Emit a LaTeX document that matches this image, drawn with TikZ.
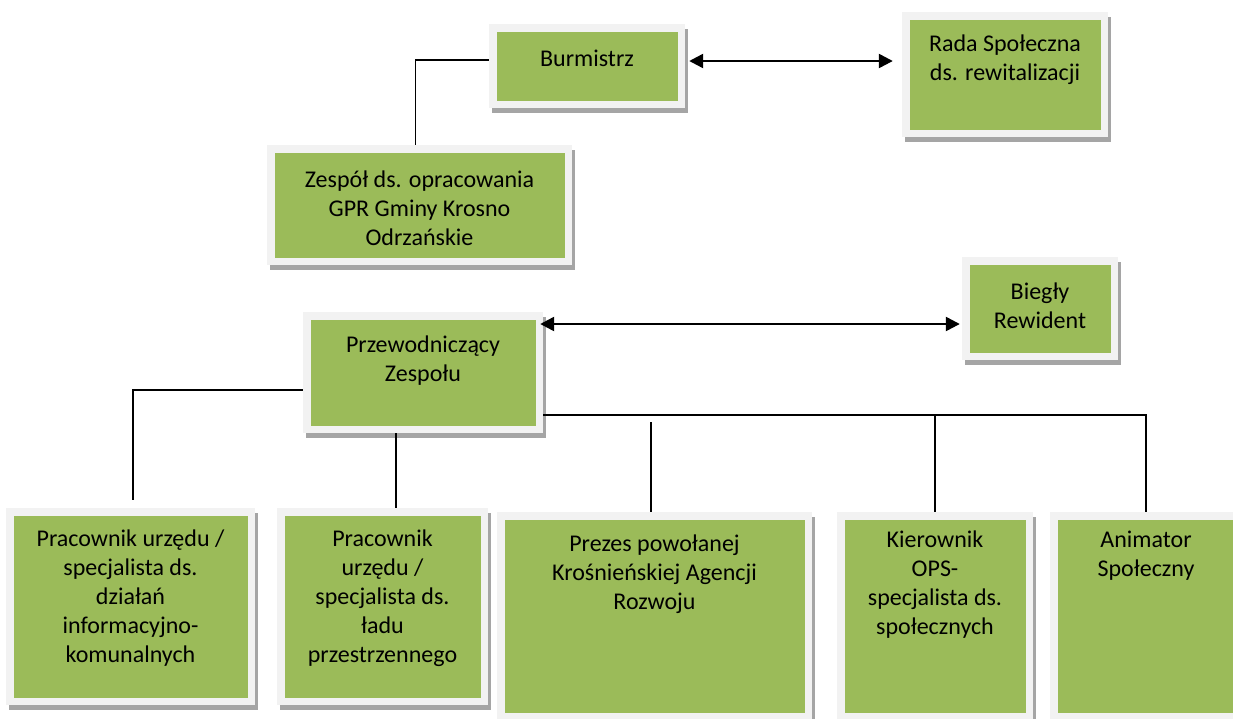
\documentclass[tikz,border=0pt]{standalone}
\usepackage{fontspec}
\setmainfont{Carlito}
\usetikzlibrary{arrows.meta, positioning, calc, shadows}
\definecolor{boxgreen}{HTML}{9BBB59}
\definecolor{boxframe}{HTML}{F2F2F2}
\definecolor{boxshade}{HTML}{A5A5A5}
\newcommand{\rim}{7.5pt}

\begin{document}
\begin{tikzpicture}[x=1pt, y=-1pt,
    every node/.style={font=\fontsize{24}{29}\selectfont},
    orgbox/.style={rectangle, fill=boxframe, inner sep=0pt,
                   drop shadow={shadow xshift=3pt, shadow yshift=-4.5pt,
                                fill=boxshade, opacity=1},
                   path picture={\fill[boxgreen]
                       ($(path picture bounding box.south west)+(\rim,\rim)$)
                       rectangle
                       ($(path picture bounding box.north east)-(\rim,\rim)$);}},
    boxtext/.style={align=center, inner sep=0pt, execute at begin node=\strut},
    link/.style={draw=black, line width=1.6pt},
    twoway/.style={draw=black, line width=2.4pt,
                   {Triangle[length=14pt,width=14pt]}-{Triangle[length=14pt,width=14pt]}},
]
\useasboundingbox (0,0) rectangle (1233,718);
\clip (0,0) rectangle (1233,718);

% ---------------------------------------------------------------- upper part
\node[orgbox, minimum width=196pt, minimum height=84pt] (burm) at (587,66) {};
\node[boxtext, below=22pt of burm.north] (burmtxt) {Burmistrz};

\node[orgbox, minimum width=206pt, minimum height=125pt] (rada) at (1005,74.5) {};
\node[boxtext, below=23pt of rada.north] (radatxt)
    {Rada Społeczna\\ds. rewitalizacji};

\node[orgbox, minimum width=305pt, minimum height=120pt] (zesp) at (419.5,205) {};
\node[boxtext, below=26pt of zesp.north] (zesptxt)
    {Zespół ds. opracowania\\GPR Gminy Krosno\\Odrzańskie};

% ---------------------------------------------------------------- team head
\node[orgbox, minimum width=240pt, minimum height=121pt] (przew) at (423,372.5) {};
\node[boxtext, below=24pt of przew.north] (przewtxt)
    {Przewodniczący\\Zespołu};

\node[orgbox, minimum width=156pt, minimum height=103pt] (biegly) at (1040,308.5) {};
\node[boxtext, below=26pt of biegly.north] (bieglytxt)
    {Biegły\\Rewident};

% ---------------------------------------------------------------- members
\node[orgbox, minimum width=249pt, minimum height=197pt] (b1) at (130.5,606.5) {};
\node[boxtext, below=22pt of b1.north] (b1txt)
    {Pracownik urzędu /\\specjalista ds.\\działań\\informacyjno-\\komunalnych};

\node[orgbox, minimum width=211pt, minimum height=197pt] (b2) at (382.5,606.5) {};
\node[boxtext, below=22pt of b2.north] (b2txt)
    {Pracownik\\urzędu /\\specjalista ds.\\ładu\\przestrzennego};

\node[orgbox, minimum width=315pt, minimum height=208pt] (b3) at (654.5,616) {};
\node[boxtext, below=23pt of b3.north] (b3txt)
    {Prezes powołanej\\Krośnieńskiej Agencji\\Rozwoju};

\node[orgbox, minimum width=196pt, minimum height=208pt] (b4) at (935,616) {};
\node[boxtext, below=19pt of b4.north] (b4txt)
    {Kierownik\\OPS-\\specjalista ds.\\społecznych};

\node[orgbox, minimum width=192pt, minimum height=208pt] (b5) at (1146,616) {};
\node[boxtext, below=19pt of b5.north] (b5txt)
    {Animator\\Społeczny};

% ---------------------------------------------------------------- links
\draw[link] ([yshift=6pt]burm.west) -| ([xshift=-4pt]zesp.north);
\draw[twoway, shorten <=4pt, shorten >=9pt]
    ([yshift=5pt]burm.east) -- ([yshift=5pt]burm.east -| rada.west);
\draw[twoway, shorten <=-3pt, shorten >=2pt]
    ([yshift=48.5pt]przew.east) -- ([yshift=48.5pt]przew.east -| biegly.west);

\draw[link] ([yshift=-17.5pt]przew.west) -| ([xshift=2.5pt,yshift=8pt]b1.north);
\draw[link] ([xshift=-27pt]przew.south) -- ([xshift=-27pt]przew.south |- b2.north);

\coordinate (bus) at ([yshift=-42.5pt]przew.east);
\draw[link] (bus) -- (bus -| b5.north) -- (b5.north);
\draw[link] (bus -| b4.north) -- (b4.north);
\draw[link] ([xshift=-3.5pt,yshift=-7pt]bus -| b3.north) -- ([xshift=-3.5pt]b3.north);

\end{tikzpicture}
\end{document}
